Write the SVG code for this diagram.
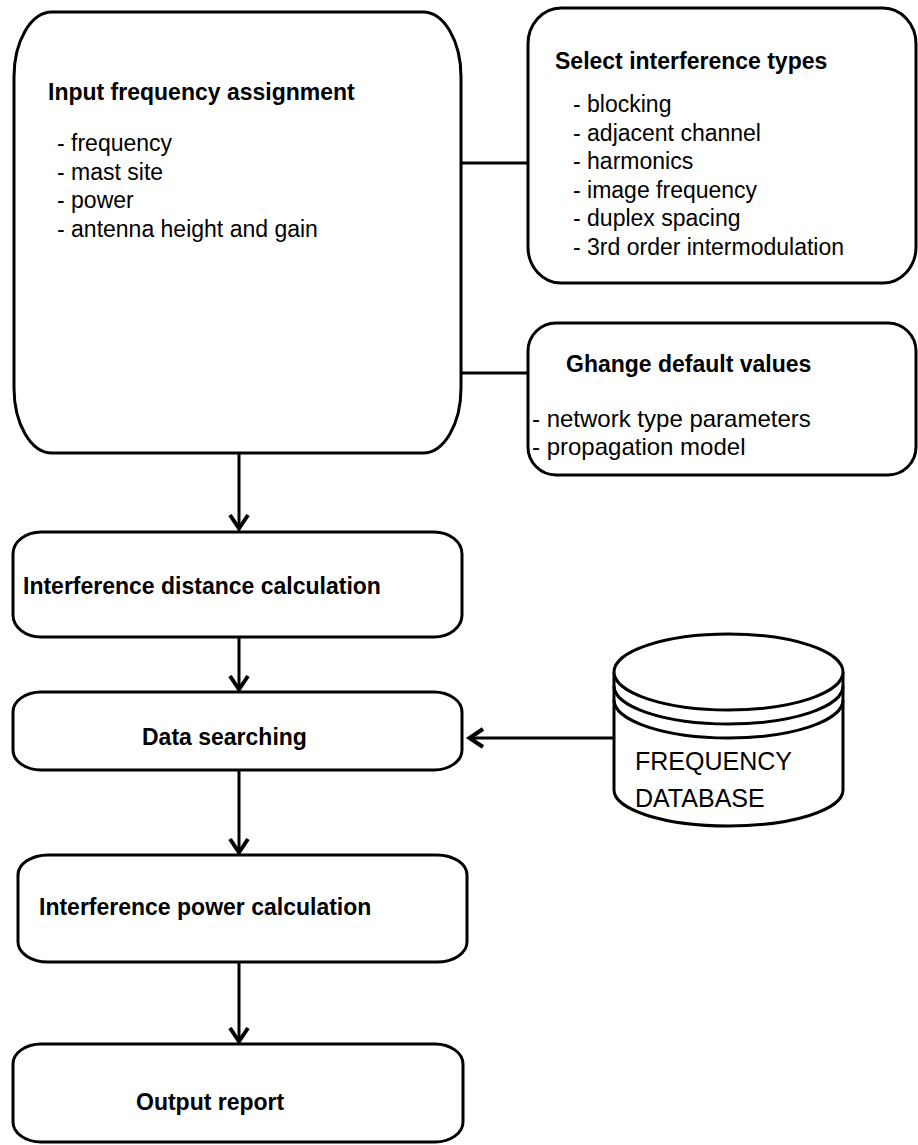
<svg xmlns="http://www.w3.org/2000/svg" width="918" height="1145" viewBox="0 0 918 1145">
  <style>
    .box { fill: #fff; stroke: #000; stroke-width: 3; }
    .line { fill: none; stroke: #000; stroke-width: 3; }
    .title { font-family: "Liberation Sans", Arial, sans-serif; font-weight: bold; font-size: 23px; fill: #000; }
    .item { font-family: "Liberation Sans", Arial, sans-serif; font-size: 23px; fill: #000; }
    .item-wide { font-family: "Liberation Sans", Arial, sans-serif; font-size: 24px; fill: #000; }
    .db { font-family: "Liberation Sans", Arial, sans-serif; font-size: 25px; fill: #000; }
  </style>
  <defs>
    <marker id="arrow" viewBox="-20 -12 24 24" refX="0" refY="0" markerWidth="24" markerHeight="24" markerUnits="userSpaceOnUse" orient="auto">
      <path d="M-14,-9 L-0.5,0 L-14,9" fill="none" stroke="#000" stroke-width="4" stroke-linejoin="miter"/>
    </marker>
  </defs>
  <rect width="918" height="1145" fill="#fff"/>

  <!-- connectors -->
  <g id="connectors">
    <line class="line" x1="461" y1="163" x2="528" y2="163"/>
    <line class="line" x1="461" y1="373" x2="528" y2="373"/>
    <line class="line" x1="239" y1="453" x2="239" y2="529" marker-end="url(#arrow)"/>
    <line class="line" x1="239" y1="637" x2="239" y2="690" marker-end="url(#arrow)"/>
    <line class="line" x1="613" y1="738" x2="469" y2="738" marker-end="url(#arrow)"/>
    <line class="line" x1="239" y1="770" x2="239" y2="853" marker-end="url(#arrow)"/>
    <line class="line" x1="239" y1="962" x2="239" y2="1042" marker-end="url(#arrow)"/>
  </g>

  <!-- input frequency assignment -->
  <g id="input">
    <rect class="box" x="14" y="12" width="447" height="441" rx="38" ry="65"/>
    <text class="title" x="48" y="100">Input frequency assignment</text>
    <text class="item" x="57" y="151">- frequency</text>
    <text class="item" x="57" y="180">- mast site</text>
    <text class="item" x="57" y="208">- power</text>
    <text class="item" x="57" y="237">- antenna height and gain</text>
  </g>

  <!-- interference type selection -->
  <g id="types">
    <rect class="box" x="528" y="8" width="388" height="275" rx="33" ry="36"/>
    <text class="title" x="555" y="69">Select interference types</text>
    <text class="item" x="573" y="112">- blocking</text>
    <text class="item" x="573" y="141">- adjacent channel</text>
    <text class="item" x="573" y="169">- harmonics</text>
    <text class="item" x="573" y="198">- image frequency</text>
    <text class="item" x="573" y="226">- duplex spacing</text>
    <text class="item" x="573" y="255">- 3rd order intermodulation</text>
  </g>

  <!-- default values -->
  <g id="defaults">
    <rect class="box" x="528" y="323" width="388" height="152" rx="28" ry="28"/>
    <text class="title" x="566" y="372">Ghange default values</text>
    <text class="item-wide" x="532" y="427">- network type parameters</text>
    <text class="item-wide" x="532" y="455">- propagation model</text>
  </g>

  <!-- distance calculation -->
  <g id="distance">
    <rect class="box" x="13" y="532" width="449" height="105" rx="28" ry="22"/>
    <text class="title" x="23" y="594">Interference distance calculation</text>
  </g>

  <!-- data searching -->
  <g id="search">
    <rect class="box" x="13" y="692" width="449" height="78" rx="28" ry="20"/>
    <text class="title" x="142" y="745">Data searching</text>
  </g>

  <!-- frequency database -->
  <g id="database">
    <path class="box" d="M614,672 L614,790 A114.5,36 0 0 0 843,790 L843,672"/>
    <ellipse class="box" cx="728.5" cy="672" rx="114.5" ry="38"/>
    <path class="line" d="M614,686 A114.5,38 0 0 0 843,686"/>
    <path class="line" d="M614,700 A114.5,38 0 0 0 843,700"/>
    <text class="db" x="635" y="770">FREQUENCY</text>
    <text class="db" x="635" y="807">DATABASE</text>
  </g>

  <!-- power calculation -->
  <g id="power">
    <rect class="box" x="18" y="855" width="449" height="107" rx="30" ry="20"/>
    <text class="title" x="39" y="915">Interference power calculation</text>
  </g>

  <!-- output -->
  <g id="output">
    <rect class="box" x="13" y="1044" width="450" height="98" rx="28" ry="20"/>
    <text class="title" x="136" y="1110">Output report</text>
  </g>
</svg>
